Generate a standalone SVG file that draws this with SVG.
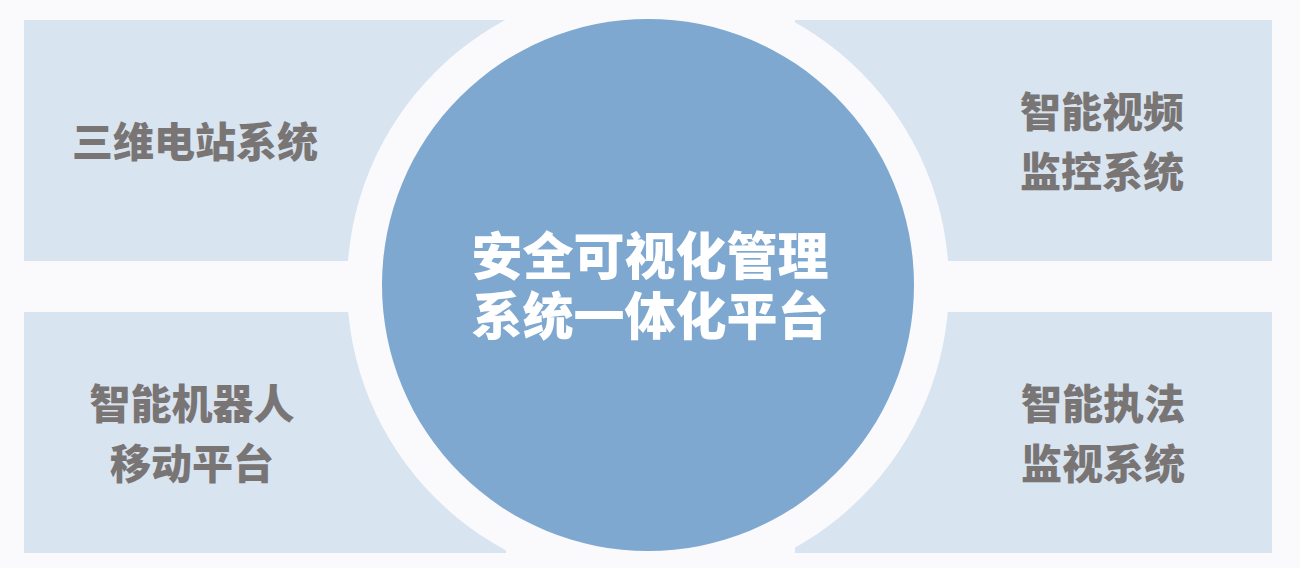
<svg xmlns="http://www.w3.org/2000/svg" width="1300" height="568" viewBox="0 0 1300 568">
<style>
.bg{fill:#fafafd}
.panel{fill:#d8e4f0}
.ring{fill:#fafafd}
.core{fill:#7ea8cf}
.lbl{font-family:"Noto Sans CJK SC","Noto Sans",sans-serif;font-weight:900;font-size:41px;fill:#797575;text-anchor:middle}
.ctr{font-family:"Noto Sans CJK SC","Noto Sans",sans-serif;font-weight:900;font-size:51px;fill:#ffffff;text-anchor:middle}
</style>
<rect class="bg" x="0" y="0" width="1300" height="568"/>
<g id="panel-tl"><rect class="panel" x="24" y="20" width="482" height="241"/><text class="lbl" x="195" y="157">三维电站系统</text></g>
<g id="panel-tr"><rect class="panel" x="795" y="20" width="477" height="241"/><text class="lbl" x="1102" y="127">智能视频</text><text class="lbl" x="1102" y="187">监控系统</text></g>
<g id="panel-bl"><rect class="panel" x="24" y="312" width="482" height="241"/><text class="lbl" x="192" y="419">智能机器人</text><text class="lbl" x="192" y="479">移动平台</text></g>
<g id="panel-br"><rect class="panel" x="795" y="312" width="477" height="241"/><text class="lbl" x="1103" y="419">智能执法</text><text class="lbl" x="1103" y="479">监视系统</text></g>
<g id="connectors"></g>
<g id="center">
<circle class="ring" cx="648" cy="285" r="301"/>
<circle class="core" cx="648" cy="285" r="266"/>
<text class="ctr"><tspan x="650" y="275">安全可视化管理</tspan><tspan x="650" y="335">系统一体化平台</tspan></text>
</g>
</svg>
